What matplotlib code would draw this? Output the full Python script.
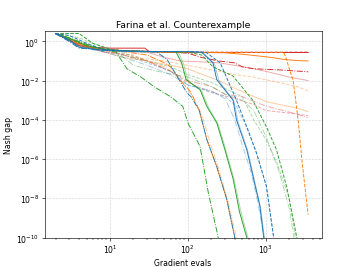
import matplotlib
matplotlib.use("Agg")
import matplotlib.pyplot as plt

title = "Farina et al. Counterexample"
xlabel = "Gradient evals"
ylabel = "Nash gap"

# ---- red ----
red_solid_x = [2, 3, 4, 6, 10, 20, 28, 32, 100, 3500]
red_solid_y = [2.5, 1.2, 0.6, 0.5, 0.45, 0.45, 0.45, 0.3, 0.27, 0.27]
red_dashed_x = [2, 3, 5, 8, 12, 30, 60, 3500]
red_dashed_y = [2.5, 1.3, 0.55, 0.4, 0.35, 0.3, 0.28, 0.28]
red_dashdot_x = [2, 4, 8, 15, 40, 100, 150, 250, 400, 500, 700, 1500, 3500]
red_dashdot_y = [2.5, 0.7, 0.4, 0.33, 0.3, 0.25, 0.15, 0.1, 0.08, 0.05, 0.04, 0.035, 0.028]
red_light_solid_x = [2, 4, 8, 15, 30, 50, 80, 150, 250, 400, 700, 1200, 2000, 3500]
red_light_solid_y = [2.5, 0.6, 0.35, 0.3, 0.28, 0.15, 0.1, 0.09, 0.08, 0.06, 0.04, 0.025, 0.015, 0.01]
red_light_dashed_x = [2, 4, 8, 20, 40, 60, 100, 150, 250, 400, 700, 1000, 1500, 2500, 3500]
red_light_dashed_y = [2.5, 0.7, 0.3, 0.2, 0.06, 0.03, 0.008, 0.004, 0.002, 0.0012, 6e-4, 3e-4, 2.5e-4, 2e-4, 1.6e-4]
red_light_dashdot_x = [2, 4, 10, 30, 60, 100, 200, 300, 500, 1000, 2000, 3500]
red_light_dashdot_y = [2.5, 0.6, 0.3, 0.1, 0.03, 0.01, 0.005, 0.002, 0.0015, 5e-4, 2.5e-4, 1.3e-4]

# ---- orange ----
orange_solid_x = [2, 3, 5, 8, 15, 30, 60, 150, 300, 500, 800, 1200, 1700, 2500, 3500]
orange_solid_y = [2.5, 1.5, 0.6, 0.4, 0.33, 0.3, 0.28, 0.27, 0.26, 0.22, 0.18, 0.15, 0.12, 0.105, 0.1]
orange_dashed_x = [2, 3, 5, 10, 30, 100, 500, 1700, 1850, 2000, 2250, 2600, 2900, 3300, 3500]
orange_dashed_y = [2.5, 1.2, 0.5, 0.35, 0.3, 0.28, 0.27, 0.27, 0.12, 0.04, 0.01, 1e-4, 1e-6, 1e-8, 1.5e-9]
orange_dashdot_x = [2, 4, 8, 15, 30, 50, 60, 80, 100, 110, 140, 175, 235, 315, 400, 430]
orange_dashdot_y = [2.5, 0.6, 0.35, 0.3, 0.2, 0.08, 0.05, 0.01, 4e-3, 2.4e-3, 3e-4, 1e-5, 4e-7, 9e-9, 1e-10, 1e-11]
orange_light_solid_x = [2, 4, 8, 15, 30, 60, 100, 155, 250, 380, 600, 1020, 1500, 2500, 3500]
orange_light_solid_y = [2.5, 0.6, 0.3, 0.15, 0.1, 0.06, 0.04, 0.02, 0.01, 4.4e-3, 2e-3, 8.4e-4, 6e-4, 4e-4, 2.6e-4]
orange_light_dashed_x = [2, 4, 8, 20, 50, 100, 200, 400, 700, 1000, 1500, 2500, 3500]
orange_light_dashed_y = [2.5, 0.8, 0.4, 0.15, 0.1, 0.06, 0.035, 0.02, 0.015, 0.011, 0.008, 0.005, 0.003]
orange_light_dashdot_x = [2, 4, 8, 15, 30, 50, 70, 90, 110, 150, 190, 250, 330, 420, 450]
orange_light_dashdot_y = [2.5, 0.7, 0.35, 0.2, 0.1, 0.05, 0.02, 6e-3, 2e-3, 2e-4, 8e-6, 3e-7, 6e-9, 1e-10, 1e-11]

# ---- green ----
green_solid_x = [2, 3, 5, 10, 20, 40, 70, 83, 95, 143, 175, 235, 290, 380, 460, 570, 600]
green_solid_y = [2.5, 1.4, 0.6, 0.35, 0.32, 0.3, 0.3, 0.08, 0.011, 3.5e-3, 4.8e-4, 7e-5, 4.4e-6, 1e-7, 2e-9, 1e-10, 1e-11]
green_dashed_x = [2, 4, 6, 10, 20, 50, 100, 150, 210, 380, 680, 1020, 1370, 1850, 2500, 2600]
green_dashed_y = [2.5, 2.5, 0.8, 0.4, 0.3, 0.3, 0.28, 0.2, 0.05, 0.017, 1e-3, 4.4e-5, 3e-6, 4e-8, 1e-10, 1e-11]
green_dashdot_x = [2, 3, 5, 8, 12, 16.5, 25, 38, 60, 86, 100, 143, 183, 245, 260]
green_dashdot_y = [2.5, 1.5, 0.7, 0.4, 0.28, 0.04, 0.015, 4.5e-3, 1.5e-3, 4.8e-4, 7e-5, 4.4e-6, 1.9e-8, 1e-10, 1e-11]
green_light_solid_x = [2, 3, 5, 10, 20, 40, 75, 88, 100, 150, 185, 245, 300, 390, 480, 590, 620]
green_light_solid_y = [2.5, 1.4, 0.6, 0.35, 0.32, 0.3, 0.3, 0.07, 0.01, 3e-3, 4e-4, 6e-5, 4e-6, 1e-7, 2e-9, 1e-10, 1e-11]
green_light_dashed_x = [2, 4, 8, 15, 30, 60, 100, 200, 350, 500, 700, 1000, 1400, 2000, 2400, 2500]
green_light_dashed_y = [2.5, 1.5, 0.5, 0.25, 0.1, 0.05, 0.02, 8e-3, 3e-3, 1.5e-3, 1e-4, 1e-5, 6e-7, 1e-8, 1e-10, 1e-11]
green_light_dashdot_x = [2, 4, 8, 12, 20, 40, 100, 200, 300, 500, 700, 1000, 1500, 2000, 2300, 2400]
green_light_dashdot_y = [2.5, 1.0, 0.4, 0.3, 0.06, 0.03, 0.015, 5e-3, 2e-3, 1e-3, 3e-4, 1.5e-5, 2e-7, 3e-9, 1e-10, 1e-11]

# ---- blue ----
blue_solid_x = [2, 3, 4, 5, 8, 15, 40, 100, 150, 210, 235, 380, 420, 570, 680, 840, 940, 1000]
blue_solid_y = [2.5, 1.2, 0.5, 0.45, 0.35, 0.32, 0.3, 0.3, 0.28, 0.08, 0.011, 1e-3, 1e-4, 3e-6, 1.5e-7, 4e-9, 1e-10, 1e-11]
blue_dashed_x = [2, 3, 5, 8, 15, 40, 100, 170, 260, 420, 570, 760, 1020, 1260, 1350]
blue_dashed_y = [2.5, 2.0, 0.8, 0.4, 0.33, 0.3, 0.3, 0.28, 0.08, 1e-3, 4.4e-5, 2e-6, 4e-8, 1e-10, 1e-11]
blue_dashdot_x = [2, 3, 4, 6, 10, 20, 40, 54, 97, 110, 140, 175, 235, 315, 400, 430]
blue_dashdot_y = [2.5, 1.0, 0.45, 0.4, 0.35, 0.3, 0.28, 0.12, 2.4e-3, 1.5e-3, 3e-4, 1e-5, 4e-7, 9e-9, 1e-10, 1e-11]
blue_light_solid_x = [2, 4, 8, 15, 40, 100, 160, 220, 250, 390, 440, 590, 700, 860, 960, 1000]
blue_light_solid_y = [2.5, 0.6, 0.35, 0.32, 0.3, 0.3, 0.25, 0.07, 0.01, 9e-4, 8e-5, 2.5e-6, 1.2e-7, 3e-9, 1e-10, 1e-11]
blue_light_dashed_x = [2, 4, 8, 15, 30, 60, 100, 200, 300, 420, 570, 760, 1020, 1260, 1350]
blue_light_dashed_y = [2.5, 0.6, 0.3, 0.2, 0.08, 0.03, 6e-3, 2.5e-3, 1.5e-3, 5e-4, 4e-5, 2e-6, 4e-8, 1e-10, 1e-11]
blue_light_dashdot_x = [2, 4, 8, 15, 30, 60, 100, 200, 300, 400, 500, 650, 800, 950, 1000]
blue_light_dashdot_y = [2.5, 0.5, 0.3, 0.15, 0.06, 0.02, 6e-3, 3e-3, 1.2e-3, 1e-4, 5e-6, 2e-7, 5e-9, 1e-10, 1e-11]

series = [
    (red_solid_x, red_solid_y, "tab:red", "-", 1.0),
    (red_dashed_x, red_dashed_y, "tab:red", "--", 1.0),
    (red_dashdot_x, red_dashdot_y, "tab:red", "-.", 1.0),
    (red_light_solid_x, red_light_solid_y, "tab:red", "-", 0.4),
    (red_light_dashed_x, red_light_dashed_y, "tab:red", "--", 0.4),
    (red_light_dashdot_x, red_light_dashdot_y, "tab:red", "-.", 0.4),
    (orange_solid_x, orange_solid_y, "tab:orange", "-", 1.0),
    (orange_dashed_x, orange_dashed_y, "tab:orange", "--", 1.0),
    (orange_dashdot_x, orange_dashdot_y, "tab:orange", "-.", 1.0),
    (orange_light_solid_x, orange_light_solid_y, "tab:orange", "-", 0.4),
    (orange_light_dashed_x, orange_light_dashed_y, "tab:orange", "--", 0.4),
    (orange_light_dashdot_x, orange_light_dashdot_y, "tab:orange", "-.", 0.4),
    (green_solid_x, green_solid_y, "tab:green", "-", 1.0),
    (green_dashed_x, green_dashed_y, "tab:green", "--", 1.0),
    (green_dashdot_x, green_dashdot_y, "tab:green", "-.", 1.0),
    (green_light_solid_x, green_light_solid_y, "tab:green", "-", 0.4),
    (green_light_dashed_x, green_light_dashed_y, "tab:green", "--", 0.4),
    (green_light_dashdot_x, green_light_dashdot_y, "tab:green", "-.", 0.4),
    (blue_solid_x, blue_solid_y, "tab:blue", "-", 1.0),
    (blue_dashed_x, blue_dashed_y, "tab:blue", "--", 1.0),
    (blue_dashdot_x, blue_dashdot_y, "tab:blue", "-.", 1.0),
    (blue_light_solid_x, blue_light_solid_y, "tab:blue", "-", 0.4),
    (blue_light_dashed_x, blue_light_dashed_y, "tab:blue", "--", 0.4),
    (blue_light_dashdot_x, blue_light_dashdot_y, "tab:blue", "-.", 0.4),
]

fig, ax = plt.subplots(figsize=(6.4, 4.8), dpi=55.83)
for xs, ys, c, ls, a in series:
    ax.plot(xs, ys, color=c, linestyle=ls, alpha=a, linewidth=1.2)

ax.set_xscale("log")
ax.set_yscale("log")
ax.set_xlim(1.45, 5200)
ax.set_ylim(1e-10, 3.3)
ax.grid(True, which="major", linestyle="--", color="#cccccc", alpha=0.8)
ax.set_title(title)
ax.set_xlabel(xlabel)
ax.set_ylabel(ylabel)
fig.savefig("out.png", dpi=55.83)
